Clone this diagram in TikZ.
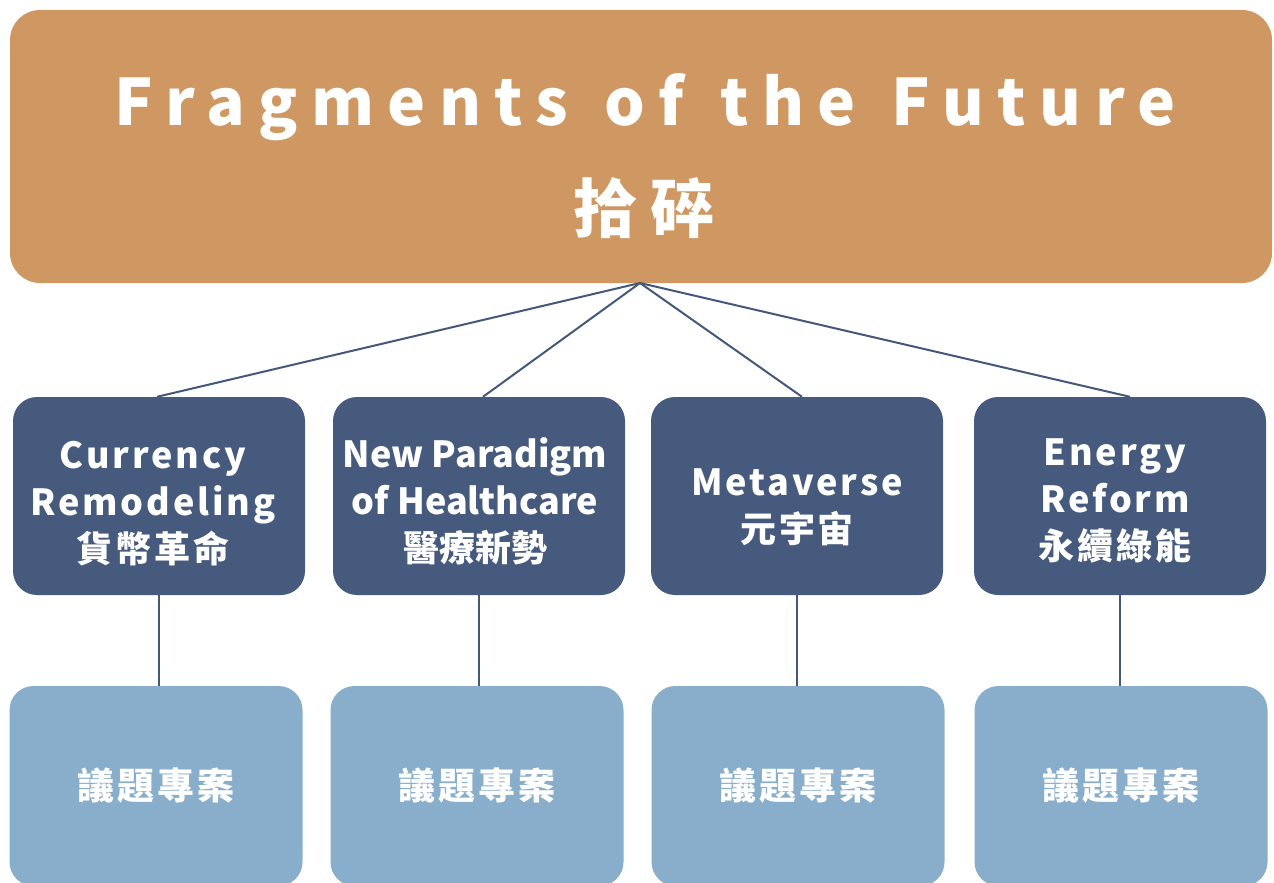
\documentclass[tikz,border=0pt]{standalone}
\usepackage{fontspec}
\setmainfont{Noto Sans CJK TC}
\newfontfamily\titlefont{Noto Sans CJK TC}[LetterSpace=21]
\newfontfamily\catfont{Noto Sans CJK TC}[LetterSpace=8]
\newfontfamily\plainfont{Noto Sans CJK TC}
\definecolor{topc}{HTML}{CF9862}
\definecolor{midc}{HTML}{455A7C}
\definecolor{botc}{HTML}{88AECB}
\definecolor{linec}{HTML}{44587A}
\begin{document}
\begin{tikzpicture}[x=1pt,y=-1pt,
  topbox/.style={rectangle, rounded corners=30pt, fill=topc, minimum width=1262pt, minimum height=273pt, inner sep=0pt},
  titletext/.style={text=white, anchor=base, inner sep=0pt, font=\titlefont\bfseries\fontsize{64}{70}\selectfont},
  catbox/.style={rectangle, rounded corners=24pt, fill=midc, minimum width=292pt, minimum height=198pt, inner sep=0pt},
  cattext/.style={text=white, align=center, inner sep=0pt, font=\catfont\bfseries\fontsize{36}{47}\selectfont},
  projbox/.style={rectangle, rounded corners=24pt, fill=botc, minimum width=293pt, minimum height=200pt, inner sep=0pt, text=white, font=\catfont\bfseries\fontsize{37}{44}\selectfont},
  conn/.style={draw=linec, line width=2pt}]
\useasboundingbox (0,0) rectangle (1274,883);
\begin{scope}
\clip (0,0) rectangle (1274,883);
\node[topbox] (top) at (641,146.5) {};
\node[titletext] (title) at (645,125) {Fragments\hspace{8pt} of\hspace{8pt} the\hspace{8pt} Future};
\node[titletext] (sub) at (644,232) {拾碎};
\node[catbox] (c1) at (159,496) {};
\node[catbox] (c2) at (479,496) {};
\node[catbox] (c3) at (797,496) {};
\node[catbox] (c4) at (1120,496) {};
\node[cattext] (c1t) at (153,504) {Currency\\Remodeling\\貨幣革命};
\node[cattext, font=\plainfont\bfseries\fontsize{36}{47}\selectfont] (c2t) at (475,501) {New Paradigm\\of Healthcare\\醫療新勢};
\node[cattext] (c3t) at (797,507) {Metaverse\\元宇宙};
\node[cattext] (c4t) at (1115,501) {Energy\\Reform\\永續綠能};
\node[projbox] (p1) at (156,786) {議題專案};
\node[projbox] (p2) at (477,786) {議題專案};
\node[projbox] (p3) at (798,786) {議題專案};
\node[projbox] (p4) at (1121,786) {議題專案};
\end{scope}
\coordinate (hub) at (640,283);
\draw[conn] (hub) -- ([xshift=-2pt]c1.north);
\draw[conn] (hub) -- ([xshift=4pt]c2.north);
\draw[conn] (hub) -- ([xshift=5pt]c3.north);
\draw[conn] (hub) -- ([xshift=10pt]c4.north);
\draw[conn] (c1.south) -- (c1.south |- p1.north);
\draw[conn] (c2.south) -- (c2.south |- p2.north);
\draw[conn] (c3.south) -- (c3.south |- p3.north);
\draw[conn] (c4.south) -- (c4.south |- p4.north);
\end{tikzpicture}
\end{document}
